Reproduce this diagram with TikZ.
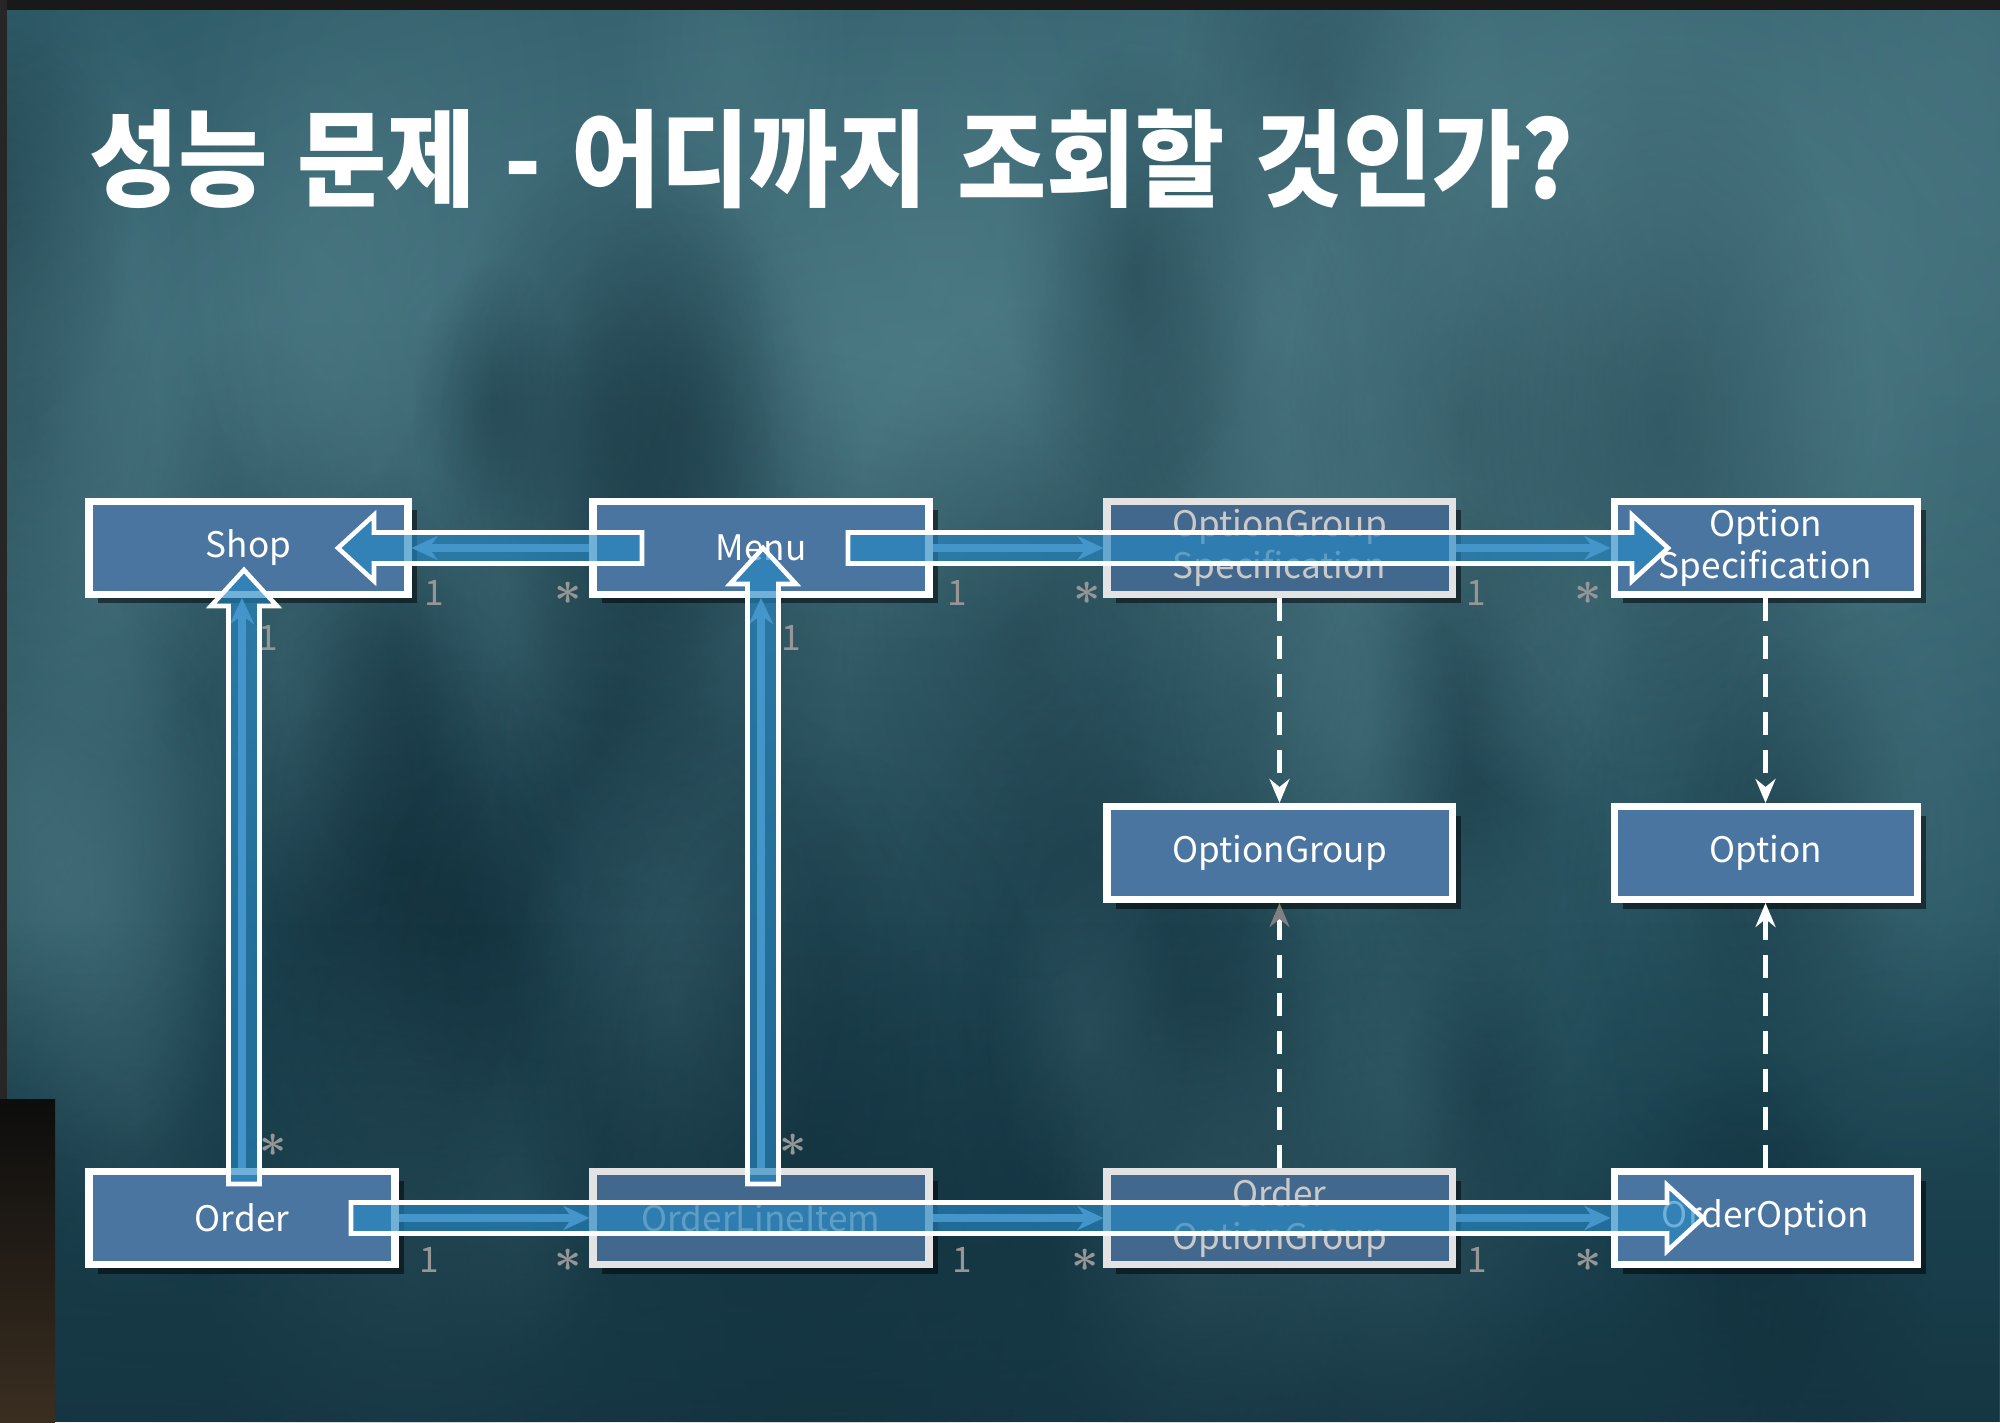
\documentclass[tikz,border=0pt]{standalone}
\usepackage{fontspec}
\usepackage{amsmath}
\setmainfont{Noto Sans CJK KR}
\newfontfamily\titlefont{Noto Sans CJK KR}
\usetikzlibrary{arrows.meta,calc,shadows,fadings}

\definecolor{bgbase}{RGB}{34,78,92}
\definecolor{bglight}{RGB}{80,126,136}
\definecolor{bgdeep}{RGB}{16,44,56}
\definecolor{boxblue}{RGB}{74,117,160}
\definecolor{fadeblue}{RGB}{66,104,142}
\definecolor{hlblue}{RGB}{38,136,196}
\definecolor{linkblue}{RGB}{122,174,214}
\definecolor{multgray}{RGB}{150,150,150}
\definecolor{stripbrown}{RGB}{58,46,32}

\tikzfading[name=glow, inner color=transparent!0, outer color=transparent!100]
\tikzfading[name=fadeup, top color=transparent!100, bottom color=transparent!0]

% block arrow laid over the diagram, from tail #1 to tip #2
\newcommand\hlarrow[2]{%
  \coordinate (hb) at ($(#2)!0.36cm!(#1)$);
  \draw[hl] ($(#1)!0.155cm!90:(#2)$) -- ($(hb)!0.155cm!90:(#2)$) -- ($(hb)!0.33cm!90:(#2)$) -- (#2)
    -- ($(hb)!0.33cm!-90:(#2)$) -- ($(hb)!0.155cm!-90:(#2)$) -- ($(#1)!0.155cm!-90:(#2)$) -- cycle;
}
\newcommand\many{\scalebox{1.35}{$\boldsymbol{\ast}$}}
\newcommand\tsp{\hspace{0.3em}}

\begin{document}
\begin{tikzpicture}[
    cls/.style={draw=white, line width=2pt, fill=boxblue, text=white, minimum height=0.93cm,
      inner sep=2pt, align=center, font=\fontsize{10}{12}\selectfont,
      drop shadow={shadow xshift=0.09cm, shadow yshift=-0.09cm, opacity=0.5, fill=black}},
    faded/.style={draw=white!78!gray, fill=fadeblue, text=white!58!gray},
    mult/.style={text=multgray, font=\fontsize{10}{10}\selectfont, inner sep=1pt},
    assoc/.style={linkblue, line width=2.2pt, -{Stealth[length=0.26cm, width=0.24cm]}},
    dep/.style={white, line width=1.2pt, dash pattern=on 0.23cm off 0.15cm,
      -{Stealth[length=0.24cm, width=0.2cm, inset=0.08cm]}},
    depgray/.style={dep, -{Stealth[length=0.24cm, width=0.2cm, inset=0.08cm, gray]}},
    hl/.style={draw=white, line width=1.3pt, fill=hlblue, fill opacity=0.65}
]
    \useasboundingbox (0,0) rectangle (20,14.22);

    % --- Background ---
    \fill[bgbase] (0,0) rectangle (20,14.22);
    \fill[bglight, path fading=glow, fill opacity=0.9] (9.5,10.3) ellipse (18 and 8);
    \fill[bglight, path fading=glow, fill opacity=0.7] (17,12) ellipse (9 and 6);
    \fill[bgdeep, path fading=glow, fill opacity=0.5] (4.5,5) ellipse (12 and 6);
    \pgfmathsetseed{11}
    \foreach \i in {1,...,70}{
      \pgfmathsetmacro\bx{20*rnd}
      \pgfmathsetmacro\by{1+13*rnd}
      \pgfmathsetmacro\br{0.8+1.6*rnd}
      \pgfmathsetmacro\bc{mod(\i,2)==0 ? "bglight" : "bgdeep"}
      \fill[\bc, path fading=glow, fill opacity=0.35] (\bx,\by) ellipse ({\br} and {1.8*\br});
    }
    \fill[bgdeep, path fading=fadeup, fill opacity=0.7] (0,0) rectangle (20,5);
    \fill[black!90] (0,14.12) rectangle (20,14.22);
    \fill[black!85] (0,3.23) rectangle (0.07,14.22);
    \shade[top color=black!95, bottom color=stripbrown] (0,0) rectangle (0.55,3.23);

    % --- Title ---
    \node[anchor=base west, inner sep=0, text=white, font=\titlefont\bfseries\fontsize{30}{30}\selectfont]
      (title) at (0.89,12.23) {\scalebox{0.92}[1]{성능\tsp 문제\tsp -\tsp 어디까지\tsp 조회할\tsp 것인가?}};

    % --- Classes ---
    \node[cls, minimum width=3.19cm] (shop) at (2.485,8.74) {Shop};
    \node[cls, minimum width=3.36cm] (menu) at (7.61,8.74) {Menu};
    \node[cls, faded, minimum width=3.45cm] (ogs) at (12.795,8.74) {OptionGroup\\Specification};
    \node[cls, minimum width=3.03cm] (os) at (17.655,8.74) {Option\\Specification};
    \node[cls, minimum width=3.45cm] (optgroup) at (12.795,5.69) {OptionGroup};
    \node[cls, minimum width=3.03cm] (option) at (17.655,5.69) {Option};
    \node[cls, minimum width=3.06cm] (order) at (2.42,2.04) {Order};
    \node[cls, faded, minimum width=3.36cm] (oli) at (7.61,2.04) {OrderLineItem};
    \node[cls, faded, minimum width=3.45cm] (oog) at (12.795,2.04) {Order\\OptionGroup};
    \node[cls, minimum width=3.03cm] (oo) at (17.655,2.04) {OrderOption};

    % --- Associations ---
    \draw[assoc] (menu.west) -- (shop.east);
    \draw[assoc] (menu.east) -- (ogs.west);
    \draw[assoc] (ogs.east) -- (os.west);
    \draw[assoc] (order.east) -- (oli.west);
    \draw[assoc] (oli.east) -- (oog.west);
    \draw[assoc] (oog.east) -- (oo.west);
    \draw[assoc] (order.north) -- (order.north |- shop.south);
    \draw[assoc] (oli.north) -- (menu.south);

    % --- Dependencies ---
    \draw[dep] (ogs.south) -- (optgroup.north);
    \draw[dep] (os.south) -- (option.north);
    \draw[depgray] (oog.north) -- (optgroup.south);
    \draw[dep] (oo.north) -- (option.south);

    % --- Multiplicities ---
    \node[mult] (m1) at (4.34,8.29) {1};
    \node[mult] (m2) at (5.68,8.29) {\many};
    \node[mult] (m3) at (9.57,8.29) {1};
    \node[mult] (m4) at (10.87,8.29) {\many};
    \node[mult] (m5) at (14.76,8.29) {1};
    \node[mult] (m6) at (15.88,8.29) {\many};
    \node[mult] (m7) at (4.29,1.62) {1};
    \node[mult] (m8) at (5.68,1.62) {\many};
    \node[mult] (m9) at (9.62,1.62) {1};
    \node[mult] (m10) at (10.85,1.62) {\many};
    \node[mult] (m11) at (14.77,1.62) {1};
    \node[mult] (m12) at (15.88,1.62) {\many};
    \node[mult] (m13) at (2.68,7.84) {1};
    \node[mult] (m14) at (2.73,2.77) {\many};
    \node[mult] (m15) at (7.91,7.84) {1};
    \node[mult] (m16) at (7.93,2.77) {\many};

    % --- Highlight arrows ---
    \coordinate (t1) at (6.42,8.74);  \coordinate (h1) at (3.38,8.74);
    \coordinate (t2) at (8.48,8.74);  \coordinate (h2) at (16.68,8.74);
    \coordinate (t3) at (2.44,2.38);  \coordinate (h3) at (2.44,8.52);
    \coordinate (t4) at (7.63,2.38);  \coordinate (h4) at (7.63,8.74);
    \coordinate (t5) at (3.51,2.04);  \coordinate (h5) at (17.03,2.04);
    \hlarrow{t1}{h1}
    \hlarrow{t2}{h2}
    \hlarrow{t3}{h3}
    \hlarrow{t4}{h4}
    \hlarrow{t5}{h5}

\end{tikzpicture}
\end{document}
